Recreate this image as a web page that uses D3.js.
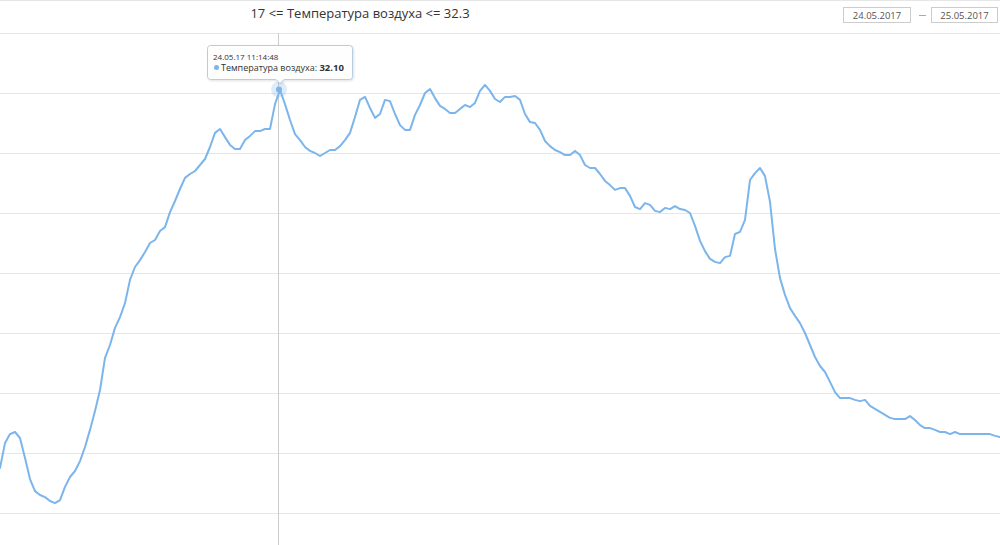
<!DOCTYPE html>
<html><head><meta charset="utf-8">
<script src="https://cdn.jsdelivr.net/npm/d3@7"></script>
<style>
html,body{margin:0;padding:0;background:#fff;overflow:hidden;}
svg{display:block;font-family:"Open Sans",Arial,sans-serif;}
</style></head>
<body>
<svg id="chart" width="1000" height="545"></svg>
<script>
const titleText = "17 <= Температура воздуха <= 32.3";
const dateFrom = "24.05.2017";
const dateTo = "25.05.2017";
const seriesName = "Температура воздуха";
const tooltipTime = "24.05.17 11:14:48";
const tooltipIndex = 56;
const tickValues = [18, 20, 22, 24, 26, 28, 30, 32, 34];
const yDomain = [17, 35];
const temps = [
19.50,20.33,20.63,20.70,20.50,19.83,19.13,18.73,18.60,18.53,
18.40,18.33,18.43,18.87,19.20,19.40,19.73,20.20,20.77,21.40,
22.10,23.17,23.60,24.17,24.53,25.00,25.77,26.20,26.43,26.70,
27.00,27.10,27.40,27.53,28.03,28.40,28.80,29.17,29.30,29.40,
29.60,29.80,30.20,30.67,30.80,30.53,30.27,30.13,30.13,30.43,
30.57,30.73,30.73,30.80,30.80,31.63,32.10,31.63,31.10,30.63,
30.43,30.20,30.07,30.00,29.90,30.00,30.10,30.10,30.23,30.43,
30.67,31.20,31.77,31.87,31.50,31.17,31.30,31.77,31.73,31.30,
30.93,30.77,30.77,31.27,31.60,32.00,32.13,31.83,31.57,31.47,
31.33,31.33,31.47,31.60,31.53,31.67,32.07,32.27,32.07,31.80,
31.70,31.87,31.87,31.90,31.77,31.30,31.03,31.00,30.77,30.40,
30.23,30.10,30.03,29.93,29.93,30.07,29.93,29.60,29.50,29.50,
29.30,29.07,28.93,28.77,28.83,28.83,28.57,28.20,28.13,28.33,
28.27,28.07,28.03,28.17,28.13,28.23,28.13,28.10,28.00,27.57,
27.07,26.73,26.47,26.37,26.33,26.53,26.57,27.30,27.37,27.77,
29.10,29.33,29.50,29.23,28.37,26.80,25.83,25.27,24.83,24.57,
24.33,24.00,23.60,23.20,22.90,22.70,22.37,22.03,21.83,21.83,
21.83,21.77,21.73,21.77,21.57,21.47,21.37,21.27,21.17,21.13,
21.13,21.13,21.23,21.10,20.93,20.83,20.83,20.77,20.70,20.70,
20.63,20.70,20.63,20.63,20.63,20.63,20.63,20.63,20.63,20.57,
20.53
];

const svg = d3.select("#chart");
const W = 1000, H = 545;
const x = d3.scaleLinear().domain([0, temps.length - 1]).range([0, W]);
const y = d3.scaleLinear().domain(yDomain).range([543, 3]);

// top border
svg.append("line").attr("x1",0).attr("x2",W).attr("y1",0.5).attr("y2",0.5)
  .attr("stroke","#e6e6e6").attr("stroke-width",1);

// gridlines
svg.append("g").selectAll("line").data(tickValues).join("line")
  .attr("x1",0).attr("x2",W)
  .attr("y1",d=>Math.round(y(d))+0.5).attr("y2",d=>Math.round(y(d))+0.5)
  .attr("stroke","#e6e6e6").attr("stroke-width",1);

// title
svg.append("text").attr("x",360).attr("y",18).attr("text-anchor","middle")
  .attr("font-size",13).attr("fill","#333").text(titleText);

// date boxes
const dg = svg.append("g").attr("font-size",9.5).attr("fill","#555");
dg.append("rect").attr("x",843.5).attr("y",7.5).attr("width",67).attr("height",15)
  .attr("fill","#fff").attr("stroke","#ccc");
dg.append("text").attr("x",877).attr("y",18.5).attr("text-anchor","middle").attr("fill","#555").text(dateFrom);
dg.append("line").attr("x1",919).attr("x2",926).attr("y1",15.5).attr("y2",15.5).attr("stroke","#aaa");
dg.append("rect").attr("x",931.5).attr("y",7.5).attr("width",66).attr("height",15)
  .attr("fill","#fff").attr("stroke","#ccc");
dg.append("text").attr("x",964.5).attr("y",18.5).attr("text-anchor","middle").attr("fill","#555").text(dateTo);

// crosshair
const cx = x(tooltipIndex);
svg.append("line").attr("x1",Math.round(cx)-1.5).attr("x2",Math.round(cx)-1.5)
  .attr("y1",33).attr("y2",H).attr("stroke","#cccccc").attr("stroke-width",1);

// line
const line = d3.line().x((d,i)=>x(i)).y(d=>y(d));
svg.append("path").datum(temps).attr("d",line)
  .attr("fill","none").attr("stroke","#7cb5ec").attr("stroke-width",2)
  .attr("stroke-linejoin","round").attr("stroke-linecap","round");

// marker with halo
const cy = y(temps[tooltipIndex]);
svg.append("circle").attr("cx",cx-1).attr("cy",cy-0.5).attr("r",8).attr("fill","#7cb5ec").attr("opacity",0.25);
svg.append("circle").attr("cx",cx-1).attr("cy",cy-0.5).attr("r",3).attr("fill","#7cb5ec");

// tooltip
const tg = svg.append("g");
const tx = 207.5, ty = 45.5, tw = 145, th = 34;
tg.append("path")
  .attr("d",`M${tx+3},${ty} H${tx+tw-3} Q${tx+tw},${ty} ${tx+tw},${ty+3} V${ty+th-3} Q${tx+tw},${ty+th} ${tx+tw-3},${ty+th} H${cx+4} L${cx},${ty+th+4} L${cx-4},${ty+th} H${tx+3} Q${tx},${ty+th} ${tx},${ty+th-3} V${ty+3} Q${tx},${ty} ${tx+3},${ty} Z`)
  .attr("fill","rgba(255,255,255,0.95)").attr("stroke","#b8cde0").attr("stroke-width",1)
  .style("filter","drop-shadow(1px 1px 1px rgba(0,0,0,0.12))");
tg.append("text").attr("x",213).attr("y",60).attr("font-size",8).attr("fill","#333").text(tooltipTime);
tg.append("circle").attr("cx",216.5).attr("cy",67.5).attr("r",2.5).attr("fill","#7cb5ec");
const t2 = tg.append("text").attr("x",221).attr("y",70.5).attr("font-size",9).attr("fill","#333");
t2.append("tspan").text(seriesName + ": ");
t2.append("tspan").attr("font-weight","bold").attr("font-size",9.5).text(temps[tooltipIndex].toFixed(2));
</script>
</body></html>
